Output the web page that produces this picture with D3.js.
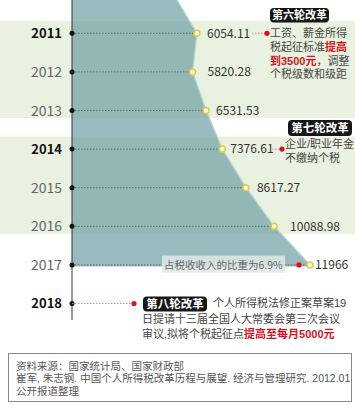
<!DOCTYPE html>
<html><head><meta charset="utf-8">
<script src="https://cdn.jsdelivr.net/npm/d3@7"></script>
<style>
html,body{margin:0;padding:0;background:#fff;}
svg{display:block;}
text{font-family:"Noto Sans CJK SC","Noto Sans",sans-serif;}
text.tight{font-family:"Liberation Sans","Noto Sans CJK SC",sans-serif;}
</style></head><body>
<svg id="c" width="355" height="413"></svg>
<script>
// ---- data ----
const years = [2011, 2012, 2013, 2014, 2015, 2016, 2017];
const revenue = [6054.11, 5820.28, 6531.53, 7376.61, 8617.27, 10088.98, 11966];
const valueLabels = ["6054.11", "5820.28", "6531.53", "7376.61", "8617.27", "10088.98", "11966"];
const axisYears = [2011, 2012, 2013, 2014, 2015, 2016, 2017, 2018];
const boldYears = [2011, 2014, 2018];
const bands = [[2011, 2013], [2014, 2016]];
const leadValue = 5000; // area edge above 2011
const reform6 = "第六轮改革", reform7 = "第七轮改革", reform8 = "第八轮改革";
const note2011 = [[["工资、薪金所得", 0]], [["税起征标准", 0], ["提高", 1]], [["到3500元", 1], ["，调整", 0]], [["个税级数和级距", 0]]];
const note2014 = ["企业/职业年金", "不缴纳个税"];
const note2017 = "占税收收入的比重为6.9%";
const note2018 = [[["个人所得税法修正案草案19", 0]], [["日提请十三届全国人大常委会第三次会议", 0]], [["审议,拟将个税起征点", 0], ["提高至每月5000元", 1]]];
const sourceLines = ["资料来源：国家统计局、国家财政部", "崔军, 朱志钢. 中国个人所得税改革历程与展望. 经济与管理研究. 2012.01", "公开报道整理"];

// ---- layout ----
const W = 355, H = 413, axisX = 72;
const labelDx = [10, 15, 10, 8, 11, 16, 5];
const svg = d3.select("#c");
const x = d3.scaleLinear().domain([0, 12000]).range([81.3, 310.6]);
const y = d3.scaleLinear().domain([2011, 2018]).range([33.3, 303.5]);
const RED = "#d7131f";

// bands
svg.selectAll("rect.band").data(bands).join("rect").attr("class", "band")
  .attr("x", 0).attr("width", W)
  .attr("y", d => y(d[0]) - 12.5).attr("height", d => y(d[1]) - y(d[0]) + 20)
  .attr("fill", "#e9f2e1");

// area
const pts = [{yy: 0, v: leadValue}].concat(years.map((yr, i) => ({yy: y(yr), v: revenue[i]})));
const areaPts = pts.concat([{yy: y(2017) + 1.5, v: revenue[revenue.length - 1]}]);
svg.append("path").datum(areaPts)
  .attr("d", d3.area().x0(axisX).x1(d => x(d.v)).y(d => d.yy))
  .attr("fill", "#6d9ea3").attr("fill-opacity", 0.7);
svg.append("path").datum(pts)
  .attr("d", d3.line().x(d => x(d.v)).y(d => d.yy))
  .attr("fill", "none").attr("stroke", "#b3d3d4").attr("stroke-width", 1.3);

// axis line
svg.append("line").attr("x1", axisX).attr("x2", axisX).attr("y1", 0).attr("y2", 320)
  .attr("stroke", "#333").attr("stroke-width", 1);

// 2017 note box (under dashes)
const n17 = svg.append("g");
const n17t = n17.append("text").attr("x", 164).attr("y", y(2017)).attr("dy", "0.35em")
  .attr("font-size", 10.5).attr("fill", "#666").text(note2017);

// dashed lines
svg.selectAll("line.dash").data(years).join("line").attr("class", "dash")
  .attr("x1", axisX).attr("x2", (d, i) => x(revenue[i]))
  .attr("y1", d => y(d)).attr("y2", d => y(d))
  .attr("stroke", "#4a5a5c").attr("stroke-width", 0.8).attr("stroke-dasharray", "1.5,1.5");

{
  const bb = n17t.node().getBBox();
  n17.insert("rect", "text").attr("x", bb.x - 2).attr("y", bb.y - 1).attr("width", bb.width + 4).attr("height", bb.height + 2)
    .attr("fill", "#dfe8e8").attr("fill-opacity", 0.85);
  n17.raise();
}

// axis dots & year labels
svg.selectAll("circle.ad").data(axisYears).join("circle").attr("class", "ad")
  .attr("cx", axisX).attr("cy", d => y(d)).attr("r", 2.5).attr("fill", "#111");
svg.selectAll("text.yr").data(axisYears).join("text").attr("class", "yr")
  .attr("x", 62).attr("y", d => y(d)).attr("dy", "0.36em").attr("text-anchor", "end")
  .attr("font-family", d => boldYears.includes(d) ? "'Open Sans',sans-serif" : "'Liberation Sans Narrow','Open Sans',sans-serif")
  .attr("font-size", d => boldYears.includes(d) ? 13 : 14)
  .attr("font-weight", d => boldYears.includes(d) ? "bold" : "normal")
  .attr("fill", d => boldYears.includes(d) ? "#111" : "#666")
  .text(d => d);

// red connectors
function redDot(cx, cy) { svg.append("circle").attr("cx", cx).attr("cy", cy).attr("r", 2.6).attr("fill", RED); }
function redLine(x1, x2, yy) {
  svg.append("line").attr("x1", x1).attr("x2", x2).attr("y1", yy).attr("y2", yy)
    .attr("stroke", "#e07a80").attr("stroke-width", 0.9).attr("stroke-dasharray", "1.5,1.5");
}
redLine(252, 267, y(2011)); redDot(267, y(2011));
redLine(272, 282, y(2014)); redDot(282, y(2014));
redLine(287, 299, y(2017)); redDot(299, y(2017));
redLine(axisX, 134, y(2018)); redDot(134, y(2018));

// points
svg.selectAll("circle.pt").data(years).join("circle").attr("class", "pt")
  .attr("cx", (d, i) => x(revenue[i])).attr("cy", d => y(d)).attr("r", 3)
  .attr("fill", "#fff6cf").attr("stroke", "#e3c947").attr("stroke-width", 1.5);

// value labels
svg.selectAll("text.val").data(years).join("text").attr("class", "val")
  .attr("x", (d, i) => x(revenue[i]) + labelDx[i]).attr("y", d => y(d)).attr("dy", "0.36em")
  .attr("font-family", "'Open Sans',sans-serif").attr("font-size", 12).attr("fill", "#333")
  .text((d, i) => valueLabels[i]);

// reform boxes
function badge(label, bx, by, bw, bh, fs) {
  svg.append("rect").attr("x", bx).attr("y", by).attr("width", bw).attr("height", bh).attr("rx", 4)
    .attr("fill", "#161616");
  svg.append("text").attr("x", bx + bw / 2).attr("y", by + bh / 2).attr("dy", "0.36em")
    .attr("text-anchor", "middle").attr("font-size", fs).attr("font-weight", "bold").attr("fill", "#fff").text(label);
}
badge(reform6, 270, 8, 59, 14.5, 11);
badge(reform7, 288, 120, 64, 16, 11.5);
badge(reform8, 143, 296.5, 64, 15, 11.5);

// multi-colour text lines
function richLines(lines, x0, y0, lh, fs, xs) {
  lines.forEach((parts, i) => {
    const t = svg.append("text").attr("class", "tight").attr("x", xs && xs[i] != null ? xs[i] : x0).attr("y", y0 + i * lh)
      .attr("dy", "0.36em").attr("font-size", fs);
    parts.forEach(p => t.append("tspan").attr("fill", p[1] ? RED : "#444")
      .attr("font-weight", p[1] ? "bold" : "normal").text(p[0]));
  });
}
richLines(note2011, 270, y(2011), 13.7, 11);
note2014.forEach((s, i) => svg.append("text").attr("class", "tight").attr("x", 285).attr("y", 144 + i * 14).attr("dy", "0.36em")
  .attr("font-size", 11).attr("fill", "#444").text(s));
richLines(note2018, 142, y(2018), 15.5, 11, [213, 142, 142]);

// source box
svg.append("rect").attr("x", 8.5).attr("y", 353.5).attr("width", 343).attr("height", 48)
  .attr("fill", "#fff").attr("stroke", "#888").attr("stroke-width", 1);
sourceLines.forEach((s, i) => svg.append("text").attr("class", "tight").attr("x", 16).attr("y", 366 + i * 12.5).attr("dy", "0.36em")
  .attr("font-size", 10.5).attr("fill", "#555").text(s));
</script>
</body></html>
